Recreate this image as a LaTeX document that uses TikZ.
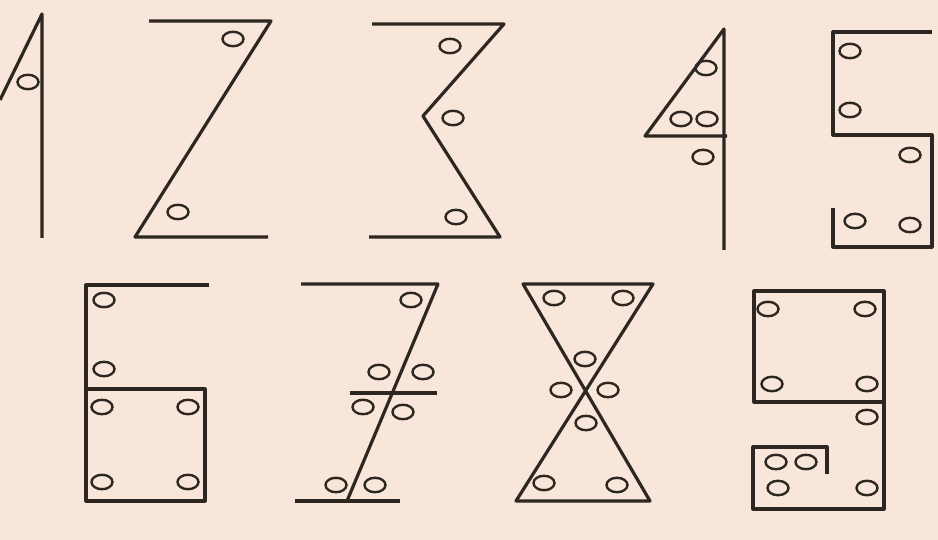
\documentclass[tikz,border=0pt]{standalone}
\usepackage{xcolor}
\usepackage{tikz}
\definecolor{paper}{RGB}{247,230,217}
\definecolor{ink}{RGB}{45,38,33}

\begin{document}
\begin{tikzpicture}[
    x=1pt, y=-1pt,
    stroke/.style={draw=ink, line width=3.2pt, line join=round},
    hole/.style={draw=ink, line width=2.4pt}
]
    \fill[paper] (0,0) rectangle (938,540);
    \useasboundingbox (0,0) rectangle (938,540);

    % top row: 1 2 3 4 5
    \draw[stroke] (0,100) -- (42,14) -- (42,238);
    \draw[stroke] (149,21) -- (271,21) -- (135,237) -- (268,237);
    \draw[stroke] (372,24) -- (504,24) -- (423,116) -- (500,237) -- (369,237);
    \draw[stroke] (727,136) -- (645,136) -- (724,29) -- (724,250);
    \draw[stroke] (932,32) -- (833,32) -- (833,135) -- (932,135) -- (932,247) -- (833,247) -- (833,208);

    % bottom row: 6 7 8 9
    \draw[stroke] (209,285) -- (86,285) -- (86,501) -- (205,501) -- (205,389) -- (84,389);
    \draw[stroke] (301,284) -- (438,284) -- (347,501);
    \draw[stroke] (295,501) -- (400,501);
    \draw[stroke] (350,393) -- (437,393);
    \draw[stroke] (516,501) -- (653,284) -- (523,284) -- (650,501) -- cycle;
    \draw[stroke] (885,402) -- (754,402) -- (754,291) -- (884,291) -- (884,509) -- (753,509) -- (753,447) -- (827,447) -- (827,474);

    % angle marks
    \foreach \cx/\cy in {28/82, 233/39, 178/212, 450/46, 453/118, 456/217,
        706/68, 681/119, 707/119, 703/157, 850/51, 850/110, 910/155, 855/221, 910/225,
        104/300, 104/369, 102/407, 188/407, 102/482, 188/482,
        411/300, 379/372, 423/372, 363/407, 403/412, 336/485, 375/485,
        554/298, 623/298, 585/359, 561/390, 608/390, 586/423, 544/483, 617/485,
        768/309, 865/309, 772/384, 867/384, 867/417, 776/462, 806/462, 778/488, 867/488}
        \draw[hole] (\cx,\cy) ellipse (10.5pt and 7.2pt);
\end{tikzpicture}
\end{document}
